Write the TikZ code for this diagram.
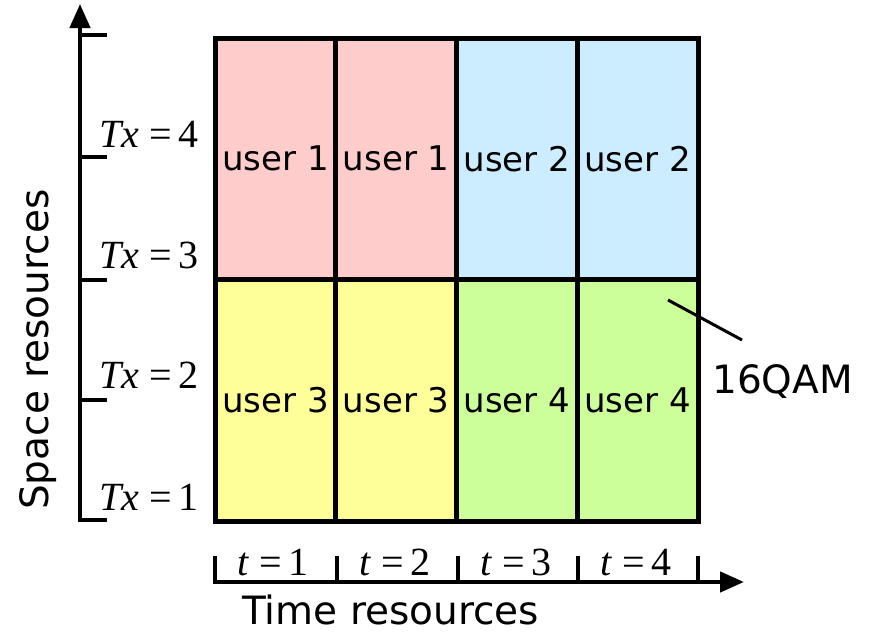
\documentclass[tikz,border=0pt]{standalone}
\usepackage{fontspec}
\setmainfont{DejaVu Sans}
\newfontfamily\tmsfont{Liberation Serif}
\usetikzlibrary{arrows.meta}
\definecolor{cpink}{RGB}{255,204,204}
\definecolor{cblue}{RGB}{204,236,255}
\definecolor{cyellow}{RGB}{255,255,153}
\definecolor{cgreen}{RGB}{204,255,153}
\newcommand{\txlab}[1]{{\tmsfont\fontsize{40}{44}\selectfont\textit{Tx}\hspace{0.25em}=\hspace{0.18em}#1}}
\newcommand{\tlab}[1]{{\tmsfont\fontsize{40}{44}\selectfont\textit{t}\hspace{0.25em}=\hspace{0.18em}#1}}
\begin{document}
\begin{tikzpicture}[x=1pt,y=-1pt,
  cell/.style={draw=black, line width=5pt, rectangle, inner sep=0pt,
    minimum width=120.75pt, minimum height=241.5pt,
    font=\fontsize{34}{37}\selectfont},
  axisline/.style={line width=4.5pt, line join=miter},
  tick/.style={line width=4.5pt},
  biglab/.style={font=\fontsize{39}{42}\selectfont, inner sep=0pt},
  txnode/.style={anchor=base west, inner sep=0pt},
  tnode/.style={anchor=base, inner sep=0pt}]
\useasboundingbox (0,0) rectangle (875,637);

% resource grid: top row 37..280, bottom row 280..520
\node[cell, fill=cpink]   (a1) at (275.375,158.75) {user 1};
\node[cell, fill=cpink]   (a2) at (396.125,158.75) {user 1};
\node[cell, fill=cblue]   (a3) at (516.875,158.75) {user 2};
\node[cell, fill=cblue]   (a4) at (637.625,158.75) {user 2};
\node[cell, fill=cyellow] (b1) at (275.375,400.25) {user 3};
\node[cell, fill=cyellow] (b2) at (396.125,400.25) {user 3};
\node[cell, fill=cgreen]  (b3) at (516.875,400.25) {user 4};
\node[cell, fill=cgreen]  (b4) at (637.625,400.25) {user 4};

% space axis
\draw[axisline, -{Triangle[length=24pt,width=20pt]}] (107,520) -- (80,520) -- (80,4);
\foreach \y in {35,157,280,400}
  \draw[tick] (80,\y) -- (107,\y);
\node[txnode] (tx4) at (99,147) {\txlab{4}};
\node[txnode] (tx3) at (99,268) {\txlab{3}};
\node[txnode] (tx2) at (99,388) {\txlab{2}};
\node[txnode] (tx1) at (99,510) {\txlab{1}};
\node[biglab, rotate=90, anchor=base west] (space) at (48,510) {Space resources};

% time axis
\draw[axisline, -{Triangle[length=24pt,width=20pt]}] (215,556) -- (215,582) -- (744,582);
\foreach \x in {337,458,578,698}
  \draw[tick] (\x,582) -- (\x,556);
\node[tnode] (t1) at (273,575) {\tlab{1}};
\node[tnode] (t2) at (395,575) {\tlab{2}};
\node[tnode] (t3) at (516,575) {\tlab{3}};
\node[tnode] (t4) at (636,575) {\tlab{4}};
\node[biglab, anchor=base west] (time) at (242,624) {Time resources};

% modulation label
\node[biglab, anchor=base west] (qam) at (712,393) {16QAM};
\coordinate (qamfoot) at (742,340);
\coordinate (qamtip) at (668,300);
\draw[line width=3pt] (qamtip) -- (qamfoot);
\end{tikzpicture}
\end{document}
